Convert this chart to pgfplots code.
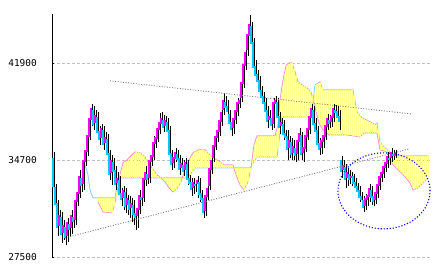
\documentclass[border=0pt]{standalone}
\usepackage{pgfplots}
\pgfplotsset{compat=1.18}
\usepackage{pgfplotstable}
\usepackage{fontspec}
\newfontfamily\tickfont{DejaVu Sans Mono}
\definecolor{upc}{RGB}{255,0,255}
\definecolor{dnc}{RGB}{0,200,255}
\definecolor{spanA}{RGB}{153,204,255}
\definecolor{spanB}{RGB}{255,153,204}
\definecolor{cloudc}{RGB}{255,255,140}
\definecolor{gridc}{RGB}{192,192,192}
\definecolor{trendc}{RGB}{128,128,128}
\definecolor{ellc}{RGB}{0,0,255}
\pgfplotstableread{
x o h l c
53 34880 35320 32500 32720
55 32720 32950 30870 31390
57 31540 31760 29090 29680
59 29830 31020 29390 30650
61 30500 30870 28570 29160
63 29310 30280 28790 29910
65 29760 30130 28420 28940
67 29090 30420 28640 30130
69 29980 30650 29090 29530
71 29680 31020 29240 30650
73 30500 30870 29680 30130
75 30280 32130 29910 31760
77 31610 32800 31310 32350
79 32210 33990 31910 33540
81 33390 33840 32350 32800
83 32950 35100 32500 34730
85 34580 35920 34280 35470
87 35320 37100 35020 36580
89 36430 38440 36210 37840
91 37700 38880 37250 38590
93 38440 38730 36950 37330
95 37470 38440 37100 38070
97 37920 38290 36360 36730
99 36880 37250 35840 36210
101 36360 37400 35990 37100
103 36950 37250 35470 35840
105 35990 36810 35470 36430
107 36290 36660 34730 35100
109 35250 35470 33240 33620
111 33760 35100 32870 34730
113 34580 34880 33390 33840
115 33990 34280 32500 32870
117 33020 33840 32130 33390
119 33240 33540 31760 32130
121 32280 32650 31310 31760
123 31910 32800 31020 32500
125 32350 32650 30800 31240
127 31390 32130 30650 31910
129 31760 32060 30420 31020
131 31170 31910 30130 31540
133 31390 31760 29910 30650
135 30800 31020 29530 30420
137 30570 31460 29680 31170
139 31020 32500 30720 32130
141 31980 32650 31310 31760
143 31910 33840 31610 33390
145 33240 34280 32800 33840
147 33690 34130 32950 33240
149 33390 35100 33020 34730
151 34580 35470 34280 35100
153 34950 36510 34730 36060
155 35920 36810 35620 36430
157 36290 37400 36060 37100
159 36950 38220 36660 37550
161 37400 38290 37100 37840
163 37700 38070 36810 37100
165 37250 37990 36950 37700
167 37550 37840 36510 36810
169 36950 37250 34730 35100
171 35250 35470 33990 34360
173 34510 35250 34130 34950
175 34800 35620 34580 35320
177 35170 35470 34280 34730
179 34880 35100 33620 33990
181 34130 34880 33840 34510
183 34360 34730 33540 33840
185 33990 34880 33390 34580
187 34430 34730 32870 33240
189 33390 33620 32500 32950
191 33100 33390 32060 32500
193 32650 33390 32210 33100
195 32950 33240 32350 32800
197 32950 33540 31910 33240
199 33100 33390 31610 32130
201 32280 32500 31390 31760
203 31910 32060 30420 30800
205 30940 32500 30570 32130
207 31980 32950 31760 32650
209 32800 34430 32500 34130
211 33990 35020 33690 34730
213 34880 36210 34580 35840
215 35690 36810 35470 36510
217 36360 37330 36060 36950
219 36810 37990 36510 37700
221 37550 38810 37250 38290
223 38440 39700 38070 39180
225 39030 39480 38290 38590
227 38730 39180 37840 38290
229 38140 38440 37100 37400
231 37550 37840 36510 36950
233 37100 38140 36660 37840
235 37700 38810 37400 38440
237 38290 39330 37990 39030
239 38880 39550 38590 39180
241 39330 40810 39030 40520
243 40370 42150 40070 41850
245 41700 43040 41410 42740
247 42890 44520 42440 44080
249 43930 45490 43630 44820
251 44670 44970 42890 43340
253 43480 43780 41110 41550
255 41700 42150 40520 40960
257 41110 41410 40070 40520
259 40660 40960 39480 39770
261 39920 40220 38880 39330
263 39480 39770 38440 38880
265 39030 39330 37840 38290
267 38440 38730 37100 37550
269 37700 38440 37250 37990
271 37840 38290 36950 37250
273 37400 39330 37100 39030
275 38880 39480 38440 39180
277 39030 39330 37400 37840
279 37990 38290 36660 37100
281 37250 37840 36810 37550
283 37400 37700 36210 36580
285 36730 36950 35840 36360
287 36510 36950 34730 35470
289 35620 36510 34880 36210
291 36060 36360 34730 35100
293 35250 36210 34730 35770
295 35620 36060 34580 35020
297 35170 36510 34730 36210
299 36060 37100 35620 36730
301 36580 36810 34730 35100
303 35250 35990 34580 35690
305 35540 36950 35320 36580
307 36430 37550 36210 37100
309 36950 38440 36660 37990
311 37840 38880 37550 38590
313 38440 38730 36950 37330
315 37470 37840 36510 36810
317 36950 37250 35470 35840
319 35990 36360 35100 35470
321 35620 36510 35170 36210
323 36060 36950 35620 36580
325 36430 37700 36210 37330
327 37180 38140 36950 37840
329 37700 38070 37100 37400
331 37550 38290 37180 37990
333 37840 38880 37550 38590
335 38440 38810 37840 38220
337 38360 38730 37550 37840
339 37990 38440 36950 37550
341 34730 35020 33390 33840
343 33990 34730 33540 34360
345 34210 34430 32650 33240
347 33390 34130 32800 33840
349 33690 33990 32950 33240
351 33390 33840 32800 33540
353 33540 33690 32650 32950
355 33100 33390 32350 32650
357 32800 33020 32060 32350
359 32500 32800 31610 31910
361 32060 32350 31460 31760
363 31760 32060 30870 31170
365 31310 32210 31020 31910
367 31760 32500 31310 32130
369 31980 32950 31610 32650
371 32500 32800 31390 31910
373 32060 32210 31310 31610
375 31760 32650 31460 32350
377 32210 33240 31910 32950
379 32800 33840 32500 33540
381 33390 34130 33100 33840
383 33690 34580 33390 34280
385 34130 34880 33840 34580
387 34430 35320 34130 35020
389 34880 35170 34360 34730
391 34880 35620 34580 35320
393 35170 35470 34730 35020
395 35020 35470 34880 35250
}\candles
% cloud stripes: span A (a) and span B (b) at each stripe
\pgfplotstableread{
x a b
98 31910 31610
100 31910 31310
102 31910 31020
104 31910 30860
106 31910 30850
108 31910 30830
110 31910 30820
112 31910 30800
114 31910 31240
116 32350 31930
118 33240 32730
120 33340 33620
122 33390 34210
124 33390 34570
126 33390 34680
128 33390 34800
130 33390 34950
132 33390 35100
134 33390 35250
136 33390 35310
138 33390 35280
140 33390 35250
142 33390 35130
144 33390 35010
146 33390 34830
148 33390 34580
150 33390 34360
152 33390 34130
154 33390 33930
156 33390 33720
158 33390 33560
160 33390 33450
162 33390 33320
164 33390 33170
166 33390 32990
168 33390 32760
170 33390 32580
172 33390 32430
174 33390 32410
176 33390 32520
178 33390 32710
180 33390 32970
182 33390 33320
184 33390 33770
186 33390 34180
188 33470 34550
190 33620 34860
192 33820 35120
194 34030 35290
196 34130 35380
198 34130 35470
200 34130 35470
202 34130 35470
204 34130 35470
206 34130 35400
208 34130 35250
210 34130 35100
212 34130 34950
214 34130 34840
216 34130 34750
218 34130 34670
220 34130 34580
222 34130 34470
224 34130 34360
226 34130 34360
228 34130 34360
230 34130 34360
232 34130 34360
234 34130 34110
236 34130 33620
238 34130 33250
240 34130 32870
242 34130 32690
244 34130 32500
246 34130 32800
248 34130 33100
250 34130 33790
252 34360 34700
254 34600 35840
256 34830 36290
258 34950 36510
260 34950 36510
262 34950 36510
264 34950 36510
266 34950 36510
268 34950 36510
270 34950 36510
272 34950 36510
274 34950 36510
276 34950 36780
278 35540 37330
280 36730 39180
282 37920 40170
284 37920 41010
286 37920 41700
288 37920 41850
290 37920 41930
292 37920 41930
294 37920 41480
296 37920 41010
298 37920 40520
300 37920 40410
302 37920 40290
304 37920 40200
306 37920 40110
308 37920 40000
310 37920 39850
312 38510 39480
314 39700 38890
316 40340 38310
318 40430 37750
320 40520 37340
322 40120 37080
324 39920 36890
326 39920 36770
328 39920 36640
330 39920 36580
332 39920 36580
334 39920 36580
336 39920 36580
338 39920 36580
340 39920 36580
342 39920 36580
344 39920 36580
346 39920 36580
348 39920 36570
350 39920 36550
352 39920 36520
354 39510 36500
356 38700 36480
358 38200 36450
360 38020 36430
362 37840 36580
364 37770 36730
366 37700 36730
368 37620 36730
370 37550 36730
372 37460 36730
374 37370 36730
376 37400 36730
378 37000 36310
380 36060 35470
382 35880 35430
384 35710 35380
386 35560 35340
388 35440 35160
390 35320 34840
392 35200 34520
394 35080 34290
396 35020 34140
398 35020 33990
400 35020 33840
402 35020 33690
404 35020 33540
406 35020 33380
408 35020 33200
410 35020 33020
412 35020 32670
414 35020 32530
416 35020 32590
418 35020 32650
420 35020 32800
422 35020 32950
424 35020 33090
426 35020 33240
428 35020 33390
}\kumo
\begin{document}
\begin{tikzpicture}
\begin{axis}[
  scale only axis,
  width=378bp, height=243.3bp,
  xmin=52, xmax=430, ymin=27500, ymax=45550,
  axis x line=none, axis y line=left,
  y axis line style={-, line width=0.9bp, black},
  scaled y ticks=false,
  ytick={27500,34700,41900},
  yticklabels={27500,34700,41900},
  yticklabel style={font=\tickfont\fontsize{9.5}{10}\selectfont, inner sep=0pt, xshift=-15bp},
  major tick length=2bp, tick align=inside,
  ytick style={black, line width=0.8bp},
  ymajorgrids,
  grid style={gridc, dash pattern=on 3bp off 2bp, line width=0.8bp},
  clip=false,
]
% ichimoku spans
\addplot[draw=spanA, fill=none, line width=0.9bp, forget plot] coordinates {
(83,34580) (86,34130) (88,33620) (90,32500) (93,31910) (98,31910) (115,31910)
(118,33240) (121,33390) (163,33390) (187,33390) (190,33620) (195,34130)
(250,34130) (257,34950) (277,34950) (282,37920) (311,37920) (315,40290)
(320,40520) (323,39920) (353,39920) (357,38290) (362,37840) (370,37550)
(375,37330) (377,37470) (380,36060) (385,35620) (390,35320) (395,35020) (428,35020)};
\addplot[draw=spanB, fill=none, line width=0.9bp, forget plot] coordinates {
(98,31610) (103,30870) (112,30800) (114,31240) (117,32280) (120,33620) (123,34510)
(127,34730) (130,34950) (135,35320) (140,35250) (145,34950) (148,34580) (152,34130)
(157,33620) (161,33390) (165,33100) (169,32650) (173,32350) (177,32580) (181,33100)
(185,33990) (189,34730) (193,35250) (198,35470) (205,35470) (209,35170) (213,34880)
(220,34580) (224,34360) (233,34360) (236,33620) (240,32870) (244,32500) (248,33100)
(251,34130) (254,35840) (257,36510) (275,36510) (278,37330) (280,39180) (283,40660)
(286,41700) (289,41930) (292,41930) (295,41260) (298,40520) (302,40290) (307,40070)
(311,39770) (315,38590) (319,37470) (323,36950) (329,36580) (347,36580) (360,36430)
(364,36730) (377,36730) (380,35470) (387,35320) (393,34360) (400,33840) (405,33470)
(410,33020) (413,32500) (418,32650) (423,33020) (428,33390)};
% cloud as vertical stripes between the two spans
\addplot[draw=none, fill=none, mark=none, forget plot,
  error bars/.cd, y dir=both, y explicit, error mark=none,
  error bar style={draw=cloudc, solid, line width=1bp}]
  table[x=x, y expr={(\thisrow{a}+\thisrow{b})/2}, y error expr={abs(\thisrow{a}-\thisrow{b})/2}] {\kumo};
% wicks
\addplot[draw=none, fill=none, mark=none, forget plot,
  error bars/.cd, y dir=both, y explicit, error mark=none,
  error bar style={draw=black, solid, line width=0.6bp}]
  table[x expr={\thisrow{x}+0.9}, y expr={(\thisrow{h}+\thisrow{l})/2}, y error expr={(\thisrow{h}-\thisrow{l})/2}] {\candles};
% candle bodies
\addplot[draw=none, fill=none, mark=none, forget plot,
  restrict expr to domain={\thisrow{c}-\thisrow{o}}{1:100000},
  error bars/.cd, y dir=both, y explicit, error mark=none,
  error bar style={draw=upc, solid, line width=1.6bp}]
  table[x=x, y expr={(\thisrow{o}+\thisrow{c})/2}, y error expr={abs(\thisrow{c}-\thisrow{o})/2}] {\candles};
\addplot[draw=none, fill=none, mark=none, forget plot,
  restrict expr to domain={\thisrow{c}-\thisrow{o}}{-100000:-1},
  error bars/.cd, y dir=both, y explicit, error mark=none,
  error bar style={draw=dnc, solid, line width=1.6bp}]
  table[x=x, y expr={(\thisrow{o}+\thisrow{c})/2}, y error expr={abs(\thisrow{c}-\thisrow{o})/2}] {\candles};
% trend lines
\addplot[trendc, fill=none, line width=0.9bp, dash pattern=on 1bp off 1.6bp] coordinates {(110,40590) (411,38140)};
\addplot[trendc, fill=none, line width=0.9bp, dash pattern=on 1bp off 1.6bp] coordinates {(65,28940) (409,35540)};
\draw[ellc, line width=1.1bp, dash pattern=on 1.1bp off 1.9bp] (axis cs:384,32430) ellipse [x radius=46bp, y radius=38bp];
\end{axis}
\pgfresetboundingbox
\path ([shift={(-52bp,-13.7bp)}]current axis.south west) rectangle ([shift={(4bp,14bp)}]current axis.north east);
\end{tikzpicture}
\end{document}
